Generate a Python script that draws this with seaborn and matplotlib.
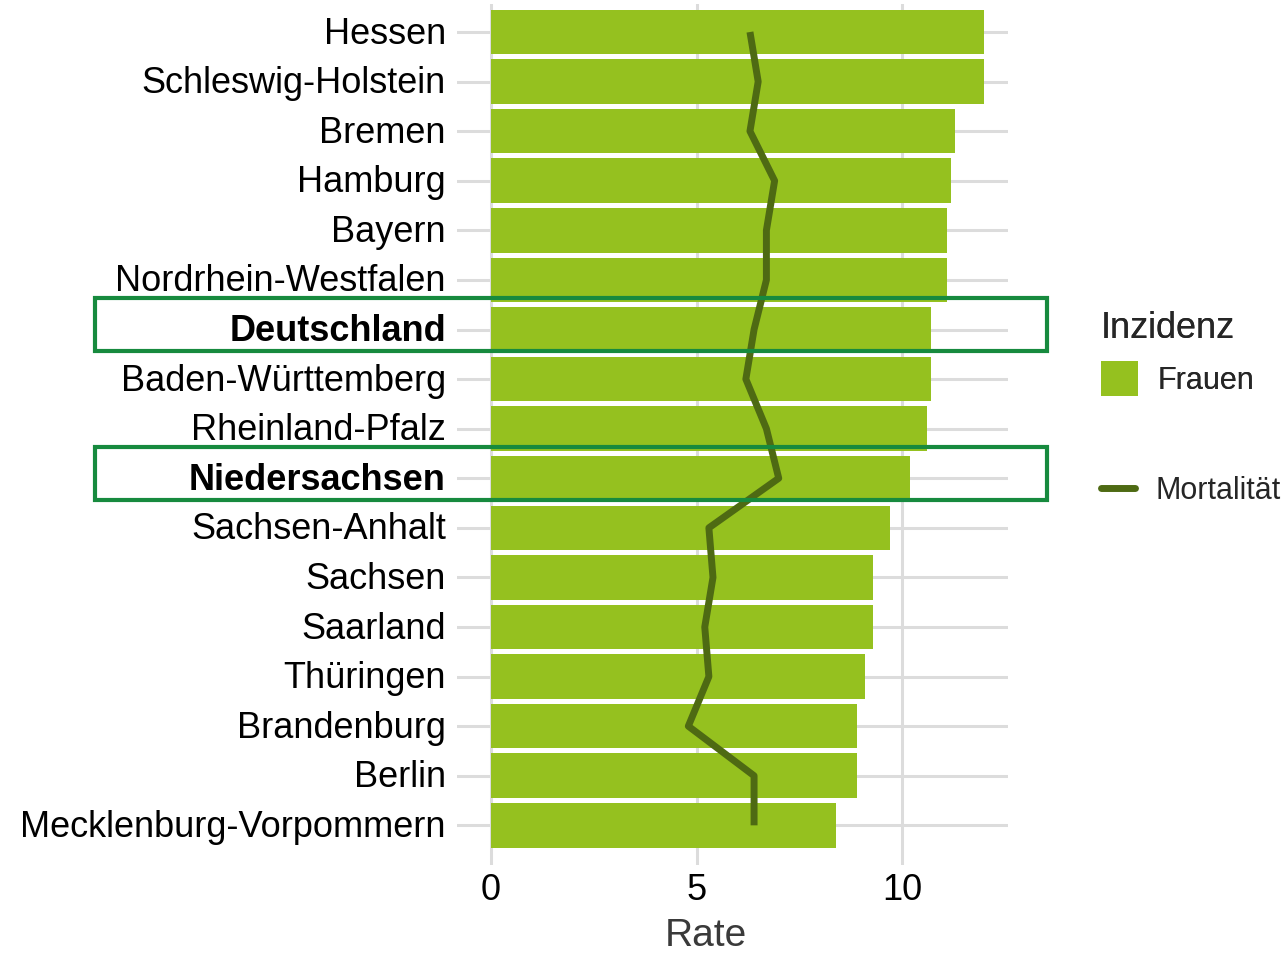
import numpy as np
import matplotlib
matplotlib.use("Agg")
import matplotlib.pyplot as plt
import matplotlib.transforms as mtransforms
from matplotlib.patches import Patch, Rectangle
from matplotlib.lines import Line2D
import seaborn as sns

# Daten
laender = ["Hessen", "Schleswig-Holstein", "Bremen", "Hamburg", "Bayern",
           "Nordrhein-Westfalen", "Deutschland", "Baden-Württemberg",
           "Rheinland-Pfalz", "Niedersachsen", "Sachsen-Anhalt", "Sachsen",
           "Saarland", "Thüringen", "Brandenburg", "Berlin",
           "Mecklenburg-Vorpommern"]
inzidenz = [12.0, 12.0, 11.3, 11.2, 11.1, 11.1, 10.7, 10.7, 10.6, 10.2,
            9.7, 9.3, 9.3, 9.1, 8.9, 8.9, 8.4]
mortalitaet = [6.3, 6.5, 6.3, 6.9, 6.7, 6.7, 6.4, 6.2, 6.7, 7.0,
               5.3, 5.4, 5.2, 5.3, 4.8, 6.4, 6.4]
hervorgehoben = ["Deutschland", "Niedersachsen"]
x_ticks = [0, 5, 10]

gruen = "#95C11F"
dunkel = "#4E6A13"
rahmen = "#178A3E"

sns.set_theme(style="whitegrid")
plt.rcParams["font.family"] = ["Liberation Sans", "DejaVu Sans"]

fig = plt.figure(figsize=(12.88, 9.56), dpi=100)
ax = fig.add_axes([457 / 1288, 1 - 865 / 956, (1008 - 457) / 1288, (865 - 4) / 956])

sns.barplot(x=inzidenz, y=laender, color=gruen, saturation=1, width=0.9,
            linewidth=0, ax=ax, zorder=2)
sns.lineplot(x=mortalitaet, y=np.arange(len(laender)), orient="y", sort=False,
             estimator=None, color=dunkel, linewidth=5, ax=ax, legend=False,
             solid_capstyle="butt", zorder=3)

ax.set_xlim(-0.83, 12.58)
ax.set_ylim(16.8, -0.565)
ax.set_xticks(x_ticks)
ax.set_yticks(np.arange(len(laender)))
ax.set_yticklabels(laender)
ax.grid(True, color="#DCDCDC", linewidth=2.2)
ax.set_axisbelow(True)
for s in ax.spines.values():
    s.set_visible(False)
ax.tick_params(axis="y", length=0, pad=8, labelsize=26, labelcolor="black")
ax.tick_params(axis="x", length=0, pad=6, labelsize=26, labelcolor="black")
shift = mtransforms.ScaledTranslation(0, 2 / 100, fig.dpi_scale_trans)
for lab in ax.get_yticklabels():
    lab.set_transform(lab.get_transform() + shift)
    if lab.get_text() in hervorgehoben:
        lab.set_fontweight("bold")

ax.set_ylabel("")
ax.set_xlabel("Rate", fontsize=28, color="#3a3a3a")
ax.xaxis.set_label_coords(0.452, -0.082)
ax.xaxis.label.set_va("center")

# Rahmen um hervorgehobene Zeilen
trans = mtransforms.blended_transform_factory(fig.transFigure, ax.transData)
for name in hervorgehoben:
    i = laender.index(name)
    ax.add_patch(Rectangle((95 / 1288, i - 0.63), (1047 - 95) / 1288, 1.06,
                           transform=trans, fill=False, edgecolor=rahmen,
                           linewidth=3, clip_on=False, zorder=5))

# Legenden
leg1 = fig.legend(handles=[Patch(facecolor=gruen, edgecolor="none", label="Frauen")],
                  title="Inzidenz", loc="upper left",
                  bbox_to_anchor=(1101 / 1288, 1 - 311 / 956), frameon=False,
                  fontsize=22, title_fontsize=26, borderpad=0, borderaxespad=0,
                  handlelength=1.2, handleheight=1.39, handletextpad=0.65,
                  alignment="left")
fig.legend(handles=[Line2D([0], [0], color=dunkel, linewidth=5, label="Mortalität")],
           loc="center left", bbox_to_anchor=(1101 / 1288, 1 - 491 / 956),
           frameon=False, fontsize=22, borderpad=0, borderaxespad=0,
           handlelength=1.1, handletextpad=0.7)
fig.add_artist(leg1)

fig.savefig("out.png", dpi=100, facecolor="white")
